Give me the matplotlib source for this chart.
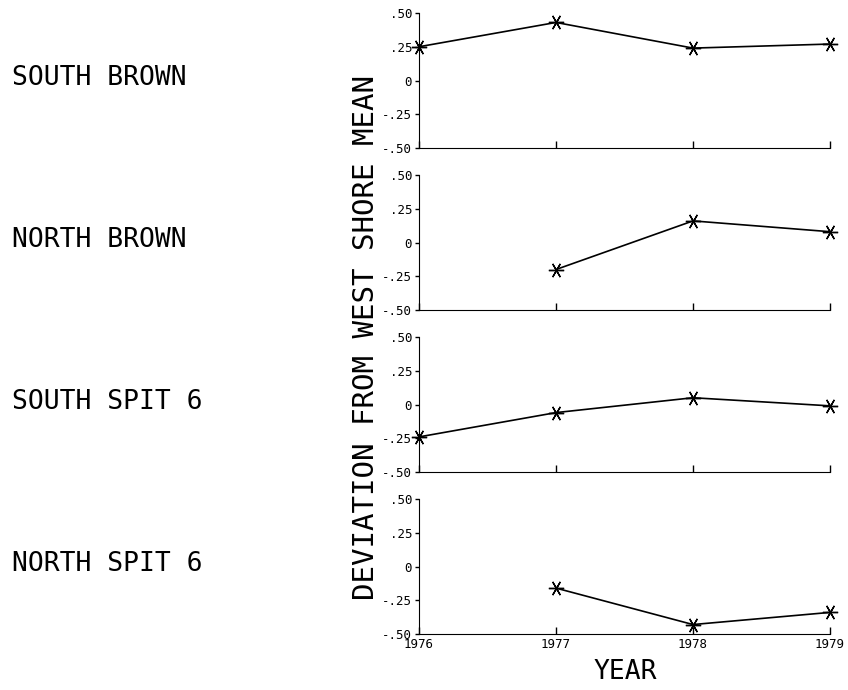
import matplotlib
matplotlib.use("Agg")
import matplotlib.pyplot as plt
import numpy as np

years = [1976, 1977, 1978, 1979]
sites = ["SOUTH BROWN", "NORTH BROWN", "SOUTH SPIT 6", "NORTH SPIT 6"]
south_brown = [0.25, 0.43, 0.24, 0.27]
north_brown = [np.nan, -0.20, 0.16, 0.08]
south_spit6 = [-0.24, -0.06, 0.05, -0.01]
north_spit6 = [np.nan, -0.16, -0.43, -0.34]
yticks = [-0.50, -0.25, 0, 0.25, 0.50]
ytick_labels = ["-.50", "-.25", "0", ".25", ".50"]

series = [south_brown, north_brown, south_spit6, north_spit6]
font = "DejaVu Sans Mono"

fig = plt.figure(figsize=(8.48, 6.90), dpi=100)
tops = [13, 175, 337, 499]
ph = 135
left, width = 419 / 848, 411 / 848

for i, (vals, top, name) in enumerate(zip(series, tops, sites)):
    ax = fig.add_axes([left, 1 - (top + ph) / 690, width, ph / 690])
    ax.plot(years, vals, color="black", linewidth=1.2, clip_on=False,
            marker=(6, 2, 90), markersize=11, markeredgewidth=1.0)
    ax.set_xlim(1976, 1979)
    ax.set_ylim(-0.5, 0.5)
    ax.set_yticks(yticks)
    ax.set_yticklabels(ytick_labels, fontfamily=font, fontsize=9)
    ax.set_xticks(years)
    ax.spines["top"].set_visible(False)
    ax.spines["right"].set_visible(False)
    ax.tick_params(direction="in", length=5, width=1, pad=3)
    ax.tick_params(axis="y", direction="out", length=3, pad=2)
    if i < 3:
        ax.set_xticklabels([])
    else:
        ax.set_xticklabels([str(y) for y in years], fontfamily=font, fontsize=9)
    fig.text(12 / 848, 1 - (top + 65) / 690, name, fontfamily=font,
             fontsize=19, va="center", ha="left")

fig.text(366 / 848, 1 - 337 / 690, "DEVIATION FROM WEST SHORE MEAN",
         fontfamily=font, fontsize=21, rotation=90, va="center", ha="center")
fig.text(625 / 848, 1 - 672 / 690, "YEAR", fontfamily=font, fontsize=19,
         va="center", ha="center")

fig.savefig("out.png", dpi=100)
